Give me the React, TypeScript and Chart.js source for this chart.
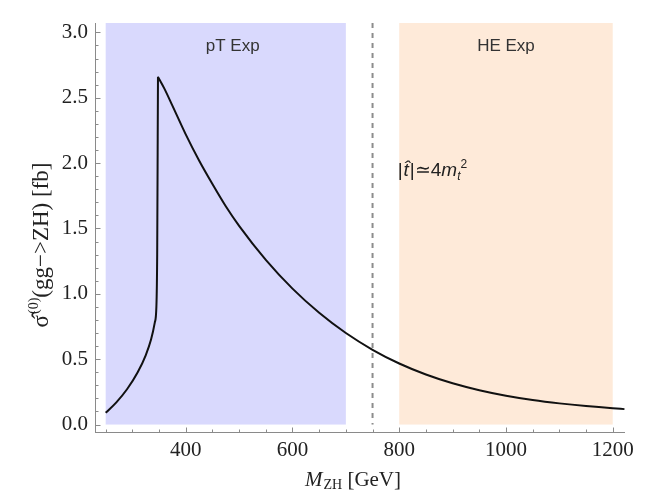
import React, { useEffect, useRef } from "react";
import { Chart, registerables } from "chart.js";

Chart.register(...registerables);

// ---- data ----
const mzhBelow = [250, 270, 290, 310, 325, 335, 342, 345, 346.5, 347.5, 348];
const sigmaBelow = [0.09, 0.17, 0.27, 0.4, 0.53, 0.65, 0.78, 0.9, 1.3, 2.2, 2.66];
const mzhAbove = [348, 360, 375, 400, 425, 450, 475, 500, 550, 600, 650, 700, 750, 800, 850, 900, 950, 1000, 1050, 1100, 1150, 1200, 1222];
const sigmaAbove = [2.66, 2.57, 2.44, 2.22, 2.02, 1.84, 1.67, 1.52, 1.26, 1.04, 0.855, 0.7, 0.572, 0.467, 0.383, 0.316, 0.263, 0.221, 0.188, 0.162, 0.141, 0.124, 0.118];

const xTicks = [400, 600, 800, 1000, 1200];
const yTicks = [0, 0.5, 1, 1.5, 2, 2.5, 3];

const pTRange = [250, 700];
const heRange = [800, 1200];
const thresholdX = 750;

const pTLabel = "pT Exp";
const heLabel = "HE Exp";

const SERIF = "'Liberation Serif', 'DejaVu Serif', serif";
const SANS = "'Liberation Sans', Arial, sans-serif";

function drawPieces(ctx: CanvasRenderingContext2D, pieces: any[], x: number, y: number, align: "left" | "center") {
  let total = 0;
  for (const p of pieces) {
    ctx.font = p.font;
    total += ctx.measureText(p.t).width + (p.gap || 0);
  }
  let cx = align === "center" ? x - total / 2 : x;
  ctx.textAlign = "left";
  ctx.textBaseline = "alphabetic";
  for (const p of pieces) {
    ctx.font = p.font;
    ctx.fillText(p.t, cx, y + (p.dy || 0));
    cx += ctx.measureText(p.t).width + (p.gap || 0);
  }
}

const decorPlugin = {
  id: "decor",
  beforeDatasetsDraw(chart: any) {
    const { ctx, chartArea, scales } = chart;
    const xs = scales.x;
    const ys = scales.y;
    ctx.save();
    const y0 = ys.getPixelForValue(0);
    // bands
    ctx.fillStyle = "#d9d9fd";
    let a = xs.getPixelForValue(pTRange[0]);
    let b = xs.getPixelForValue(pTRange[1]);
    ctx.fillRect(a, chartArea.top, b - a, y0 - chartArea.top);
    ctx.fillStyle = "#feead9";
    a = xs.getPixelForValue(heRange[0]);
    b = xs.getPixelForValue(heRange[1]);
    ctx.fillRect(a, chartArea.top, b - a, y0 - chartArea.top);
    // dashed threshold
    const tx = xs.getPixelForValue(thresholdX);
    ctx.strokeStyle = "#8c8c8c";
    ctx.lineWidth = 2;
    ctx.setLineDash([5, 5]);
    ctx.beginPath();
    ctx.moveTo(tx, chartArea.top);
    ctx.lineTo(tx, y0);
    ctx.stroke();
    ctx.setLineDash([]);
    // labels
    ctx.fillStyle = "#333";
    ctx.font = `17px ${SANS}`;
    ctx.textAlign = "center";
    ctx.textBaseline = "middle";
    ctx.fillText(pTLabel, xs.getPixelForValue(488), ys.getPixelForValue(2.89));
    ctx.fillText(heLabel, xs.getPixelForValue(1000), ys.getPixelForValue(2.89));
    // annotation |t^|≃4 m_t^2
    const f = `19px ${SANS}`;
    const fi = `italic 19px ${SANS}`;
    const fs = `italic 12px ${SANS}`;
    const fs2 = `12px ${SANS}`;
    ctx.fillStyle = "#222";
    drawPieces(
      ctx,
      [
        { t: "|", font: f, gap: 1 },
        { t: "t\u0302", font: fi, gap: 1 },
        { t: "|", font: f },
        { t: "\u2243", font: f },
        { t: "4", font: f },
        { t: "m", font: fi },
        { t: "t", font: fs, dy: 4 },
        { t: "2", font: fs2, dy: -8 },
      ],
      xs.getPixelForValue(797),
      ys.getPixelForValue(1.9),
      "left"
    );
    ctx.restore();
  },
  afterDraw(chart: any) {
    const { ctx, chartArea, scales } = chart;
    const xs = scales.x;
    const ys = scales.y;
    ctx.save();
    ctx.strokeStyle = "#8a8a8a";
    ctx.lineWidth = 1;
    const ax = Math.round(chartArea.left) + 0.5;
    const ay = Math.round(chartArea.bottom) + 0.5;
    ctx.beginPath();
    ctx.moveTo(ax, chartArea.top);
    ctx.lineTo(ax, chartArea.bottom);
    ctx.moveTo(chartArea.left, ay);
    ctx.lineTo(chartArea.right, ay);
    // x ticks (inward)
    for (let v = 250; v <= 1200; v += 50) {
      const px = Math.round(xs.getPixelForValue(v)) + 0.5;
      const len = v % 200 === 0 ? 5 : 3;
      ctx.moveTo(px, ay);
      ctx.lineTo(px, ay - len);
    }
    for (let i = 0; i <= 30; i++) {
      const v = i / 10;
      const py = Math.round(ys.getPixelForValue(v)) + 0.5;
      const len = i % 5 === 0 ? 5 : 3;
      ctx.moveTo(ax, py);
      ctx.lineTo(ax + len, py);
    }
    ctx.stroke();

    // x title: M_ZH [GeV]
    ctx.fillStyle = "#222";
    drawPieces(
      ctx,
      [
        { t: "M", font: `italic 21px ${SERIF}`, gap: 1 },
        { t: "ZH", font: `14px ${SERIF}`, dy: 3 },
        { t: " [GeV]", font: `21px ${SERIF}` },
      ],
      353,
      486,
      "center"
    );
    // y title rotated
    ctx.save();
    ctx.translate(48, 245);
    ctx.rotate(-Math.PI / 2);
    drawPieces(
      ctx,
      [
        { t: "\u03c3\u0302", font: `23px ${SERIF}`, gap: 1 },
        { t: "(0)", font: `14px ${SERIF}`, dy: -10 },
        { t: "(gg\u2212>ZH) [fb]", font: `23px ${SERIF}` },
      ],
      0,
      0,
      "center"
    );
    ctx.restore();
    ctx.restore();
  },
};

export default function App() {
  const ref = useRef<HTMLCanvasElement | null>(null);
  useEffect(() => {
    if (!ref.current) return;
    const lineStyle = {
      borderColor: "#111",
      borderWidth: 2,
      pointRadius: 0,
      showLine: true,
      fill: false,
      cubicInterpolationMode: "monotone" as const,
    };
    const chart = new Chart(ref.current, {
      type: "scatter",
      data: {
        datasets: [
          { ...lineStyle, data: mzhBelow.map((x, i) => ({ x, y: sigmaBelow[i] })) },
          { ...lineStyle, data: mzhAbove.map((x, i) => ({ x, y: sigmaAbove[i] })) },
        ],
      },
      options: {
        animation: false,
        responsive: false,
        devicePixelRatio: 1,
        layout: { padding: { left: 0, right: 43, top: 23, bottom: 0 } },
        plugins: { legend: { display: false }, tooltip: { enabled: false } },
        scales: {
          x: {
            type: "linear",
            min: 230,
            max: 1223,
            grid: { display: false, drawTicks: false },
            border: { display: false },
            afterFit: (s: any) => {
              s.height = 58;
            },
            afterBuildTicks: (s: any) => {
              s.ticks = xTicks.map((v) => ({ value: v }));
            },
            ticks: {
              font: { family: SERIF, size: 21 },
              color: "#222",
              padding: 6,
              maxRotation: 0,
              callback: (v: any) => String(v),
            },
          },
          y: {
            type: "linear",
            min: -0.057,
            max: 3.072,
            grid: { display: false, drawTicks: false },
            border: { display: false },
            afterFit: (s: any) => {
              s.width = 95;
            },
            afterBuildTicks: (s: any) => {
              s.ticks = yTicks.map((v) => ({ value: v }));
            },
            ticks: {
              font: { family: SERIF, size: 21 },
              color: "#222",
              padding: 7,
              callback: (v: any) => Number(v).toFixed(1),
            },
          },
        },
      },
      plugins: [decorPlugin],
    });
    return () => chart.destroy();
  }, []);
  return (
    <div style={{ position: "fixed", left: 0, top: 0, width: 668, height: 490, background: "#fff" }}>
      <canvas ref={ref} width={668} height={490} style={{ width: 668, height: 490 }} />
    </div>
  );
}
